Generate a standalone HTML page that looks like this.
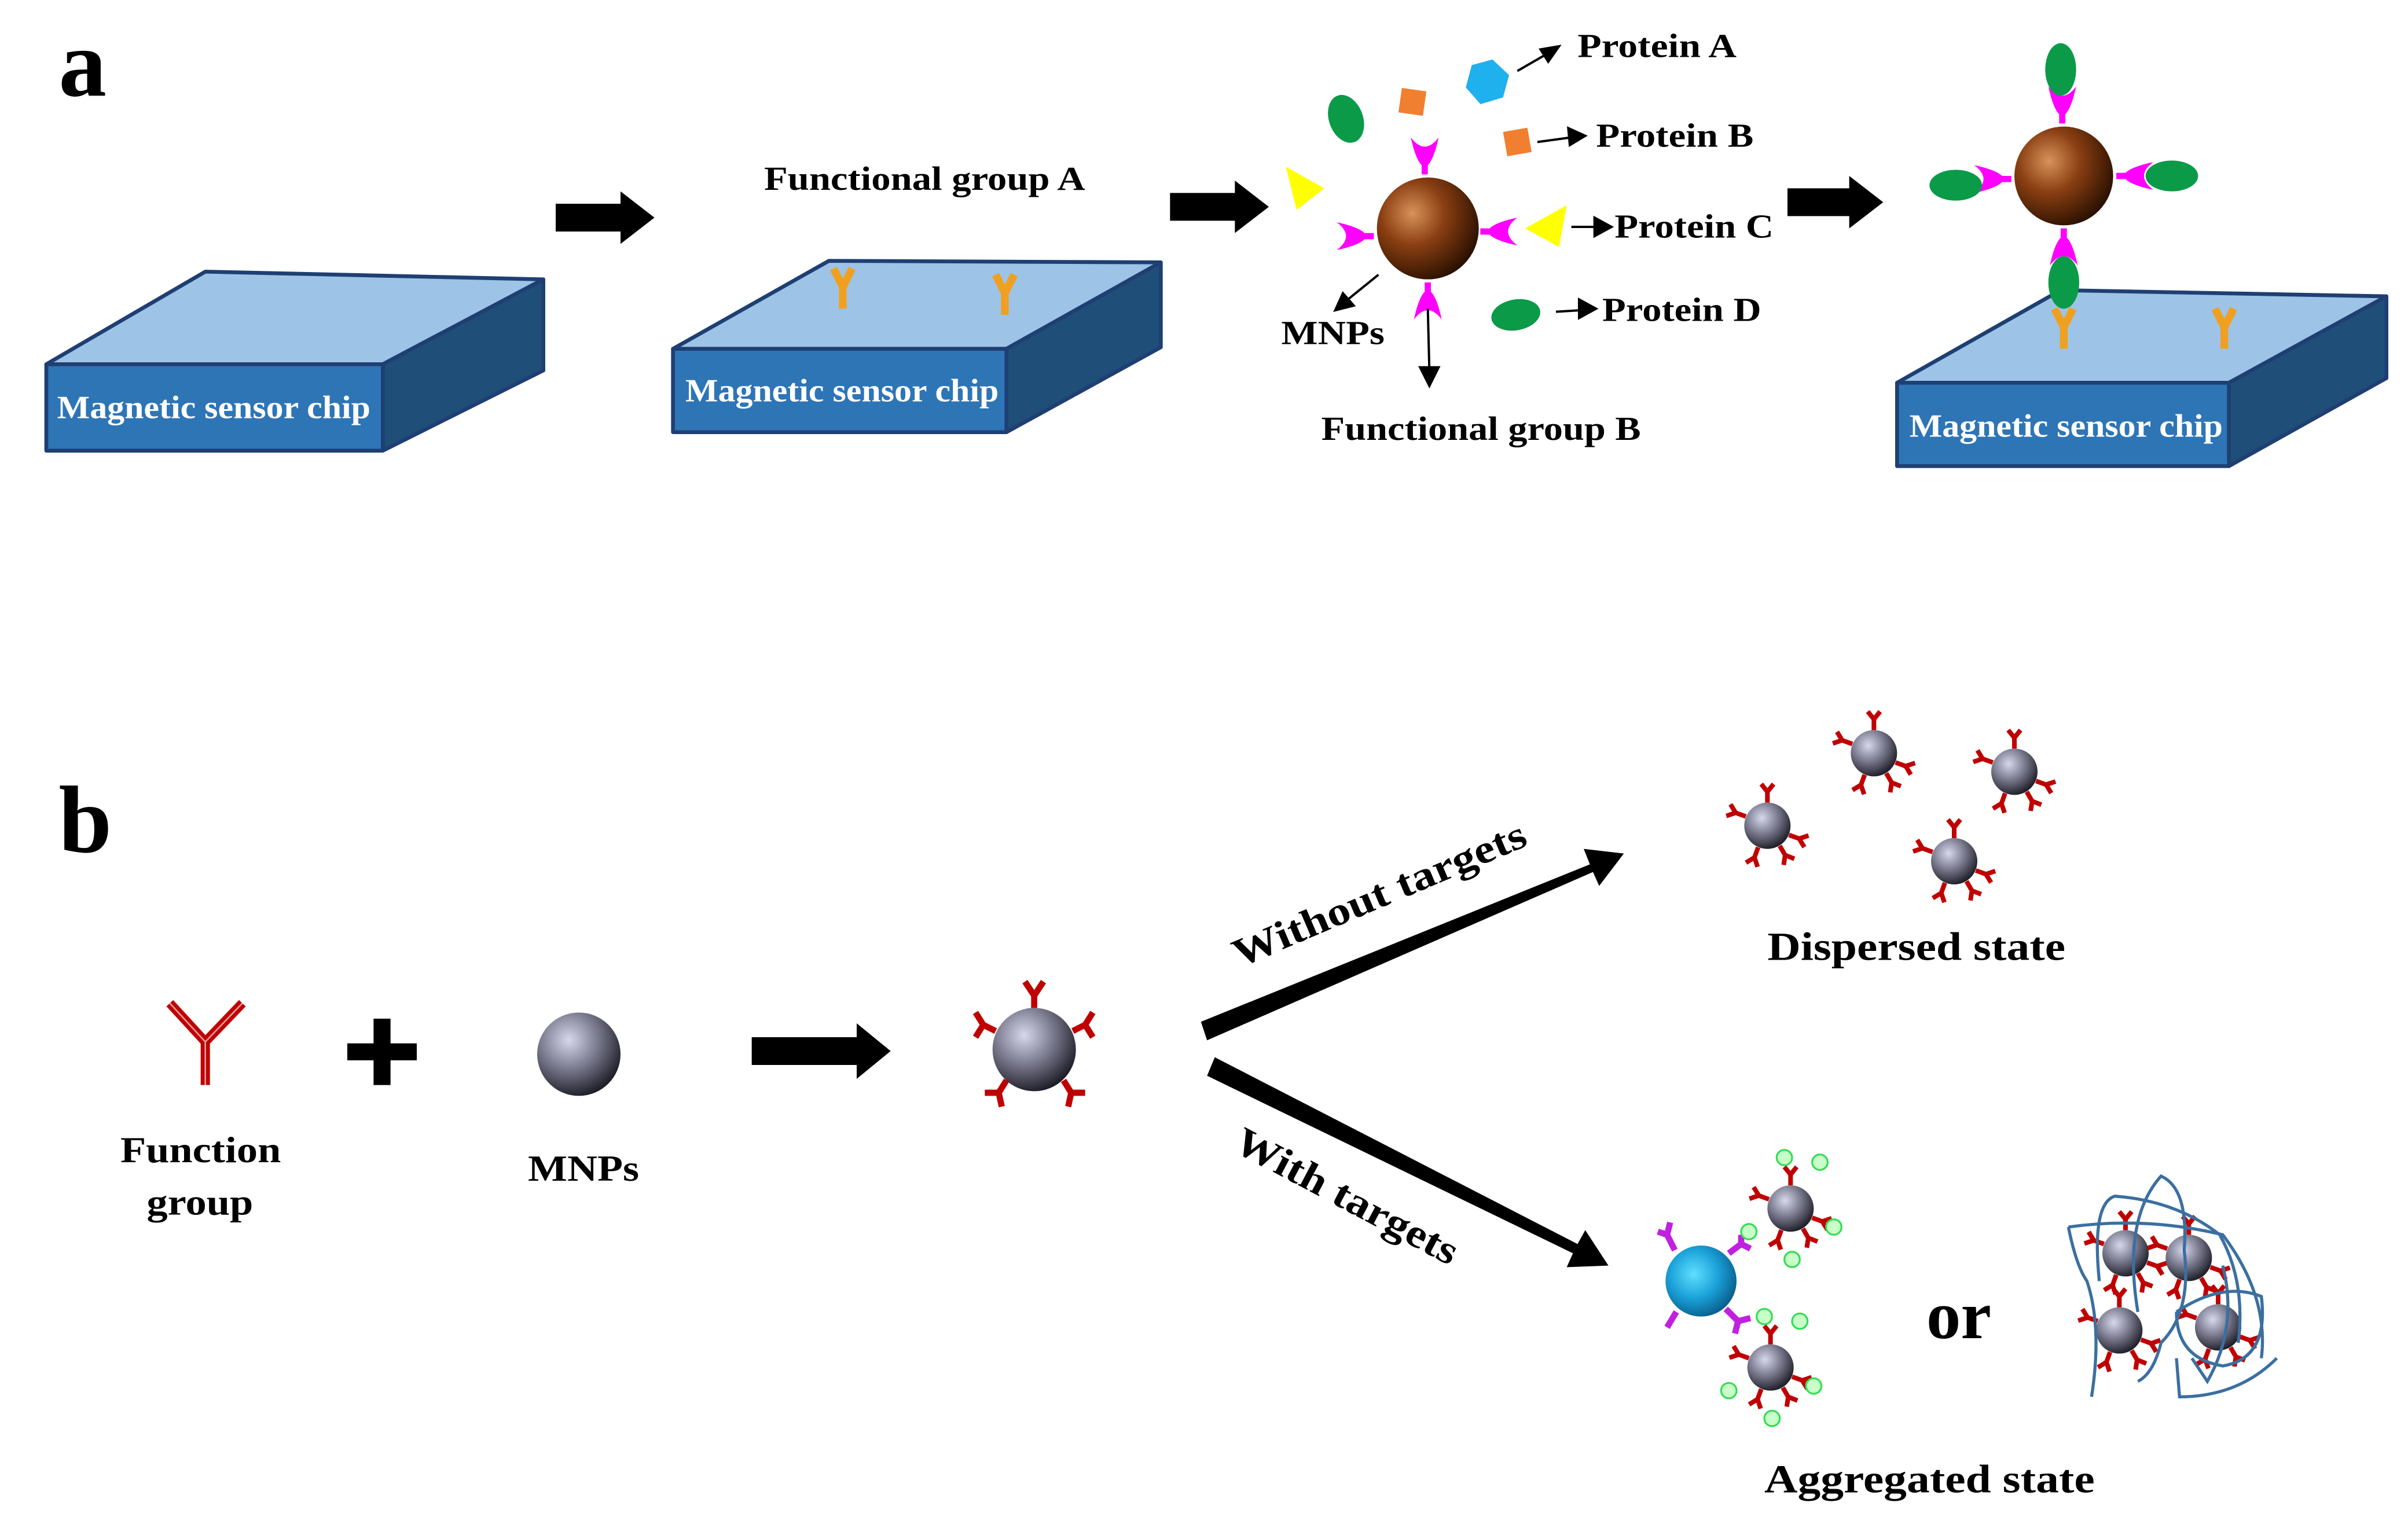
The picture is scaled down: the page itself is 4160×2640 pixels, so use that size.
<!DOCTYPE html>
<html><head><meta charset="utf-8"><style>
html,body{margin:0;padding:0;background:#fff;width:4160px;height:2640px;overflow:hidden}
svg{display:block}
text{font-family:"Liberation Serif",serif;font-weight:bold}
</style></head><body>
<svg width="4160" height="2640" viewBox="0 0 1560 990" xmlns="http://www.w3.org/2000/svg">
<defs>
<radialGradient id="br" cx="0.35" cy="0.35" r="0.7"><stop offset="0" stop-color="#d8925a"/><stop offset="0.45" stop-color="#8a3f12"/><stop offset="1" stop-color="#2a1000"/></radialGradient>
<radialGradient id="gr" cx="0.38" cy="0.33" r="0.7"><stop offset="0" stop-color="#d8d8ec"/><stop offset="0.5" stop-color="#7a7a8e"/><stop offset="1" stop-color="#1c1c26"/></radialGradient>
<radialGradient id="bl" cx="0.4" cy="0.4" r="0.7"><stop offset="0" stop-color="#5fe0ff"/><stop offset="0.5" stop-color="#1aa0d8"/><stop offset="1" stop-color="#05507a"/></radialGradient>
<g id="ry"><path d="M0,0 L0,-7 M0,-7 L-4,-12 M0,-7 L4,-12" stroke="#c00000" stroke-width="3" fill="none"/></g>
<g id="oy"><path d="M0,14 L0,0 M0,0 L-6,-12 M0,0 L6,-12" stroke="#f0a020" stroke-width="5" fill="none"/></g>
<g id="pk"><path d="M-9,-14 Q0,-2 9,-14 Q6,0 2,4 L2,10 L-2,10 L-2,4 Q-6,0 -9,-14Z" fill="#ff00ff"/></g>
<g id="sp"><circle r="15" fill="url(#gr)"/>
<use href="#ry" transform="translate(0,-15)"/><use href="#ry" transform="translate(-14,-6) rotate(-70)"/><use href="#ry" transform="translate(14,6) rotate(110)"/><use href="#ry" transform="translate(-6,14) rotate(-160)"/><use href="#ry" transform="translate(8,13) rotate(150)"/></g>
<g id="gsp"><use href="#sp"/><g fill="#c8ffc8" stroke="#33dd55" stroke-width="1.2">
<circle cx="-4" cy="-33" r="5"/><circle cx="19" cy="-30" r="5"/><circle cx="28" cy="12" r="5"/><circle cx="1" cy="33" r="5"/><circle cx="-27" cy="15" r="5"/></g></g>
</defs>

<text x="38" y="62" font-size="62">a</text>
<text x="38" y="552" font-size="62">b</text>

<!-- chip 1 -->
<g stroke="#1f3f73" stroke-width="2.5" stroke-linejoin="round">
<polygon points="30,236 133,176 352,181 248,236" fill="#9dc3e6"/>
<polygon points="248,236 352,181 352,240 248,292" fill="#1f4e79"/>
<rect x="30" y="236" width="218" height="56" fill="#2e75b6"/>
</g>
<text x="37" y="271" font-size="21" fill="#fff" textLength="203" lengthAdjust="spacingAndGlyphs">Magnetic sensor chip</text>

<!-- chip 2 -->
<g stroke="#1f3f73" stroke-width="2.5" stroke-linejoin="round">
<polygon points="436,226 537,169 752,170 652,226" fill="#9dc3e6"/>
<polygon points="652,226 752,170 752,225 652,280" fill="#1f4e79"/>
<rect x="436" y="226" width="216" height="54" fill="#2e75b6"/>
</g>
<text x="444" y="260" font-size="21" fill="#fff" textLength="203" lengthAdjust="spacingAndGlyphs">Magnetic sensor chip</text>
<use href="#oy" transform="translate(546,186)"/>
<use href="#oy" transform="translate(651,190)"/>
<text x="495" y="123" font-size="22" textLength="208" lengthAdjust="spacingAndGlyphs">Functional group A</text>

<!-- block arrows -->
<polygon points="360,132 402,132 402,124 424,141 402,158 402,150 360,150" fill="#000"/>
<polygon points="758,125 800,125 800,117 822,134 800,151 800,143 758,143" fill="#000"/>
<polygon points="1158,122 1198,122 1198,114 1220,131 1198,148 1198,140 1158,140" fill="#000"/>
<polygon points="487,672 555,672 555,663 577,681 555,699 555,690 487,690" fill="#000"/>

<!-- MNP with proteins -->
<ellipse cx="872" cy="77" rx="11" ry="16" fill="#0a9a48" transform="rotate(-20 872 77)"/>
<rect x="907" y="58" width="16" height="16" fill="#f08030" transform="rotate(8 915 66)"/>
<polygon points="963,38 976,45 976,60 963,68 951,60 951,45" fill="#1fb0ee" transform="rotate(15 963 53)"/>
<rect x="975" y="84" width="16" height="16" fill="#f08030" transform="rotate(-10 983 92)"/>
<polygon points="833,108 858,122 840,136" fill="#ffff00"/>
<polygon points="1015,133 988,148 1010,160" fill="#ffff00"/>
<ellipse cx="982" cy="204" rx="16" ry="10" fill="#0a9a48" transform="rotate(-10 982 204)"/>
<use href="#pk" transform="translate(923,103)"/>
<use href="#pk" transform="translate(925,193) rotate(180)"/>
<use href="#pk" transform="translate(880,153) rotate(-90)"/>
<use href="#pk" transform="translate(969,150) rotate(90)"/>
<circle cx="925" cy="148" r="33" fill="url(#br)"/>
<g stroke="#000" stroke-width="1.5" fill="#000">
<line x1="983" y1="46" x2="1002" y2="35"/><polygon points="1010,30 998,32 1003,40"/>
<line x1="996" y1="92" x2="1018" y2="89"/><polygon points="1027,88 1016,83 1017,94"/>
<line x1="1018" y1="147" x2="1034" y2="147"/><polygon points="1044,147 1033,141 1033,153"/>
<line x1="1008" y1="202" x2="1024" y2="201"/><polygon points="1034,200 1023,194 1023,206"/>
<line x1="893" y1="178" x2="872" y2="195"/><polygon points="865,201 877,198 870,190"/>
<line x1="925" y1="200" x2="926" y2="240"/><polygon points="926,250 920,238 932,238"/>
</g>
<text x="1022" y="37" font-size="22" textLength="103" lengthAdjust="spacingAndGlyphs">Protein A</text>
<text x="1034" y="95" font-size="22" textLength="102" lengthAdjust="spacingAndGlyphs">Protein B</text>
<text x="1046" y="154" font-size="22" textLength="103" lengthAdjust="spacingAndGlyphs">Protein C</text>
<text x="1038" y="208" font-size="22" textLength="103" lengthAdjust="spacingAndGlyphs">Protein D</text>
<text x="830" y="223" font-size="22" textLength="67" lengthAdjust="spacingAndGlyphs">MNPs</text>
<text x="856" y="285" font-size="22" textLength="207" lengthAdjust="spacingAndGlyphs">Functional group B</text>

<!-- chip 3 -->
<g stroke="#1f3f73" stroke-width="2.5" stroke-linejoin="round">
<polygon points="1229,248 1335,188 1546,192 1444,248" fill="#9dc3e6"/>
<polygon points="1444,248 1546,192 1546,245 1444,302" fill="#1f4e79"/>
<rect x="1229" y="248" width="215" height="54" fill="#2e75b6"/>
</g>
<text x="1237" y="283" font-size="21" fill="#fff" textLength="203" lengthAdjust="spacingAndGlyphs">Magnetic sensor chip</text>
<use href="#oy" transform="translate(1337,212)"/>
<use href="#oy" transform="translate(1441,212)"/>
<use href="#pk" transform="translate(1336,70)"/>
<use href="#pk" transform="translate(1337,158) rotate(180)"/>
<use href="#pk" transform="translate(1293,116) rotate(-90)"/>
<use href="#pk" transform="translate(1381,114) rotate(90)"/>
<ellipse cx="1335" cy="45" rx="10" ry="17" fill="#0a9a48"/>
<ellipse cx="1337" cy="183" rx="10" ry="17" fill="#0a9a48"/>
<ellipse cx="1267" cy="120" rx="17" ry="10" fill="#0a9a48"/>
<ellipse cx="1407" cy="114" rx="17" ry="10" fill="#0a9a48"/>
<circle cx="1337" cy="114" r="32" fill="url(#br)"/>

<!-- part b -->
<path d="M133,703 L133,675 M133,675 L110,650 M133,675 L157,650" stroke="#c00000" stroke-width="6" fill="none"/>
<path d="M133,703 L133,675 M133,675 L110,650 M133,675 L157,650" stroke="#fff" stroke-width="1" fill="none" opacity="0.6"/>
<text x="78" y="753" font-size="24" textLength="104" lengthAdjust="spacingAndGlyphs">Function</text>
<text x="95" y="787" font-size="24" textLength="69" lengthAdjust="spacingAndGlyphs">group</text>
<rect x="225" y="676" width="45" height="11" fill="#000"/><rect x="242" y="660" width="11" height="43" fill="#000"/>
<circle cx="375" cy="683" r="27" fill="url(#gr)"/>
<text x="342" y="765" font-size="24" textLength="72" lengthAdjust="spacingAndGlyphs">MNPs</text>

<circle cx="670" cy="680" r="27" fill="url(#gr)"/>
<g stroke="#c00000" stroke-width="4" fill="none">
<path d="M670,653 L670,645 M670,645 L664,636 M670,645 L676,636"/>
<path d="M645,668 L637,664 M637,664 L632,656 M637,664 L632,672"/>
<path d="M695,668 L703,664 M703,664 L708,656 M703,664 L708,672"/>
<path d="M652,700 L647,708 M647,708 L638,708 M647,708 L649,717"/>
<path d="M689,700 L694,708 M694,708 L703,708 M694,708 L692,717"/>
</g>

<polygon points="778,662 1030,560 1026,550 1052,553 1036,574 1032,565 782,674" fill="#000"/>
<polygon points="787,685 1022,806 1027,797 1042,820 1015,821 1019,812 782,697" fill="#000"/>
<text x="0" y="0" font-size="26" textLength="204" lengthAdjust="spacingAndGlyphs" transform="translate(803,627) rotate(-23)">Without targets</text>
<text x="0" y="0" font-size="26" textLength="160" lengthAdjust="spacingAndGlyphs" transform="translate(798,745) rotate(28)">With targets</text>

<use href="#sp" transform="translate(1145,535)"/>
<use href="#sp" transform="translate(1214,488)"/>
<use href="#sp" transform="translate(1305,500)"/>
<use href="#sp" transform="translate(1266,558)"/>
<text x="1145" y="622" font-size="26" textLength="193" lengthAdjust="spacingAndGlyphs">Dispersed state</text>

<g stroke="#c020e0" stroke-width="4" fill="none">
<path d="M1085,810 L1080,800 M1080,800 L1074,798 M1080,800 L1082,792"/>
<path d="M1120,812 L1128,806 M1128,806 L1134,809 M1128,806 L1128,800"/>
<path d="M1118,848 L1126,856 M1126,856 L1134,854 M1126,856 L1124,864"/>
<path d="M1086,850 L1080,860"/>
</g>
<circle cx="1102" cy="830" r="23" fill="url(#bl)"/>
<use href="#gsp" transform="translate(1160,783)"/>
<use href="#gsp" transform="translate(1147,886)"/>
<text x="1248" y="867" font-size="44" textLength="42" lengthAdjust="spacingAndGlyphs">or</text>

<use href="#sp" transform="translate(1377,812)"/>
<use href="#sp" transform="translate(1418,815)"/>
<use href="#sp" transform="translate(1373,862)"/>
<use href="#sp" transform="translate(1437,860)"/>
<g stroke="#3b6fa0" stroke-width="2" fill="none">
<path d="M1340,795 Q1390,788 1440,800 Q1470,840 1465,880 M1340,795 Q1345,820 1352,830 Q1362,860 1355,905"/>
<path d="M1360,830 Q1355,780 1370,775 Q1410,778 1438,800 Q1455,830 1450,870"/>
<path d="M1385,850 Q1375,790 1400,762 Q1418,770 1415,810 Q1420,850 1400,870 Q1395,890 1385,895"/>
<path d="M1410,850 Q1440,830 1465,840 Q1470,880 1440,885 Q1410,880 1410,850"/>
<path d="M1410,880 L1412,905 Q1450,905 1475,880 M1420,880 L1430,895 Q1450,860 1440,820"/>
</g>
<text x="1143" y="967" font-size="26" textLength="214" lengthAdjust="spacingAndGlyphs">Aggregated state</text>
</svg>
</body></html>
